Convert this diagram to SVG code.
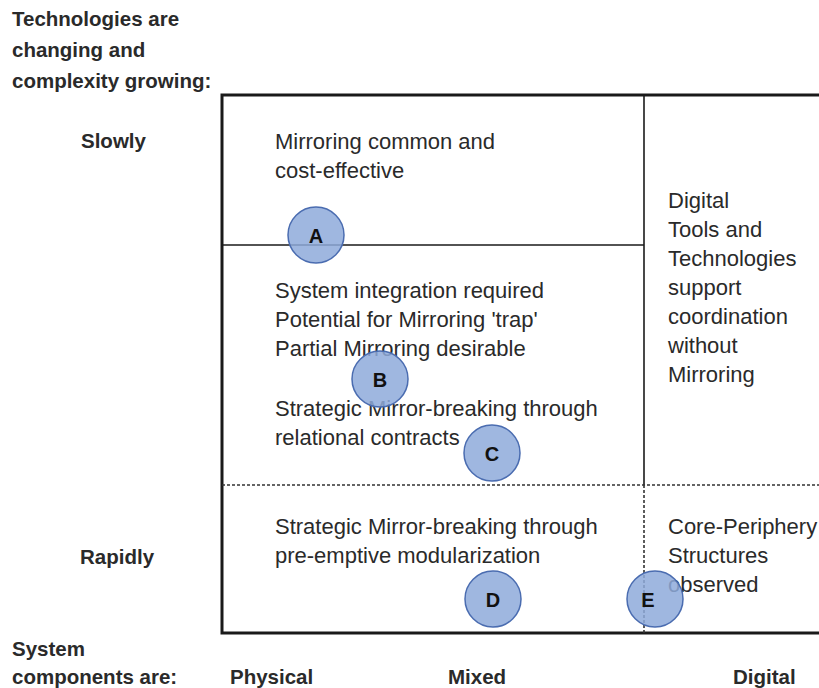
<svg xmlns="http://www.w3.org/2000/svg" width="819" height="688" viewBox="0 0 819 688">
<style>
.t{font-family:"Liberation Sans",Arial,sans-serif;font-size:22px;fill:#2a2a2a}
.b{font-family:"Liberation Sans",Arial,sans-serif;font-size:20.5px;font-weight:bold;fill:#2a2a2a}
.frame{stroke:#1a1a1a;stroke-width:3;fill:none}
.thin{stroke:#1a1a1a;stroke-width:1.6;fill:none}
.dash{stroke:#333;stroke-width:1.6;fill:none;stroke-dasharray:3 2}
.c{fill:#8eaadb;fill-opacity:0.85;stroke:#4a6cb0;stroke-width:1.5}
.cl{font-family:"Liberation Sans",Arial,sans-serif;font-size:20px;font-weight:bold;fill:#111;text-anchor:middle}
</style>
<rect width="819" height="688" fill="#fff"/>
<g id="axis-labels">
<text class="b" x="12" y="26">Technologies are</text>
<text class="b" x="12" y="57">changing and</text>
<text class="b" x="12" y="88">complexity growing:</text>
<text class="b" x="81" y="148">Slowly</text>
<text class="b" x="80" y="564">Rapidly</text>
<text class="b" x="12" y="656">System</text>
<text class="b" x="12" y="684">components are:</text>
<text class="b" x="230" y="684">Physical</text>
<text class="b" x="448" y="684">Mixed</text>
<text class="b" x="733" y="684">Digital</text>
</g>
<g id="connectors">
<path class="frame" d="M819 95 H222 V633 H819"/>
<path class="thin" d="M644 95 V485"/>
<path class="thin" d="M222 245 H644"/>
<path class="dash" d="M222 485 H819"/>
<path class="dash" d="M644 485 V633"/>
</g>
<g id="cell-top">
<text class="t" x="275" y="149">Mirroring common and</text>
<text class="t" x="275" y="178">cost-effective</text>
</g>
<g id="cell-middle">
<text class="t" x="275" y="298">System integration required</text>
<text class="t" x="275" y="327">Potential for Mirroring 'trap'</text>
<text class="t" x="275" y="356">Partial Mirroring desirable</text>
<text class="t" x="275" y="416">Strategic Mirror-breaking through</text>
<text class="t" x="275" y="445">relational contracts</text>
</g>
<g id="cell-digital">
<text class="t" x="668" y="208">Digital</text>
<text class="t" x="668" y="237">Tools and</text>
<text class="t" x="668" y="266">Technologies</text>
<text class="t" x="668" y="295">support</text>
<text class="t" x="668" y="324">coordination</text>
<text class="t" x="668" y="353">without</text>
<text class="t" x="668" y="382">Mirroring</text>
</g>
<g id="cell-bottom">
<text class="t" x="275" y="534">Strategic Mirror-breaking through</text>
<text class="t" x="275" y="563">pre-emptive modularization</text>
</g>
<g id="cell-core">
<text class="t" x="668" y="534">Core-Periphery</text>
<text class="t" x="668" y="563">Structures</text>
<text class="t" x="668" y="592">observed</text>
</g>
<g id="node-A"><circle class="c" cx="316" cy="235" r="28"/><text class="cl" x="316" y="243">A</text></g>
<g id="node-B"><circle class="c" cx="380" cy="379" r="28"/><text class="cl" x="380" y="387">B</text></g>
<g id="node-C"><circle class="c" cx="492" cy="453" r="28"/><text class="cl" x="492" y="461">C</text></g>
<g id="node-D"><circle class="c" cx="493" cy="599" r="28"/><text class="cl" x="493" y="607">D</text></g>
<g id="node-E"><circle class="c" cx="655" cy="599" r="28"/><text class="cl" x="648" y="607">E</text></g>
</svg>
